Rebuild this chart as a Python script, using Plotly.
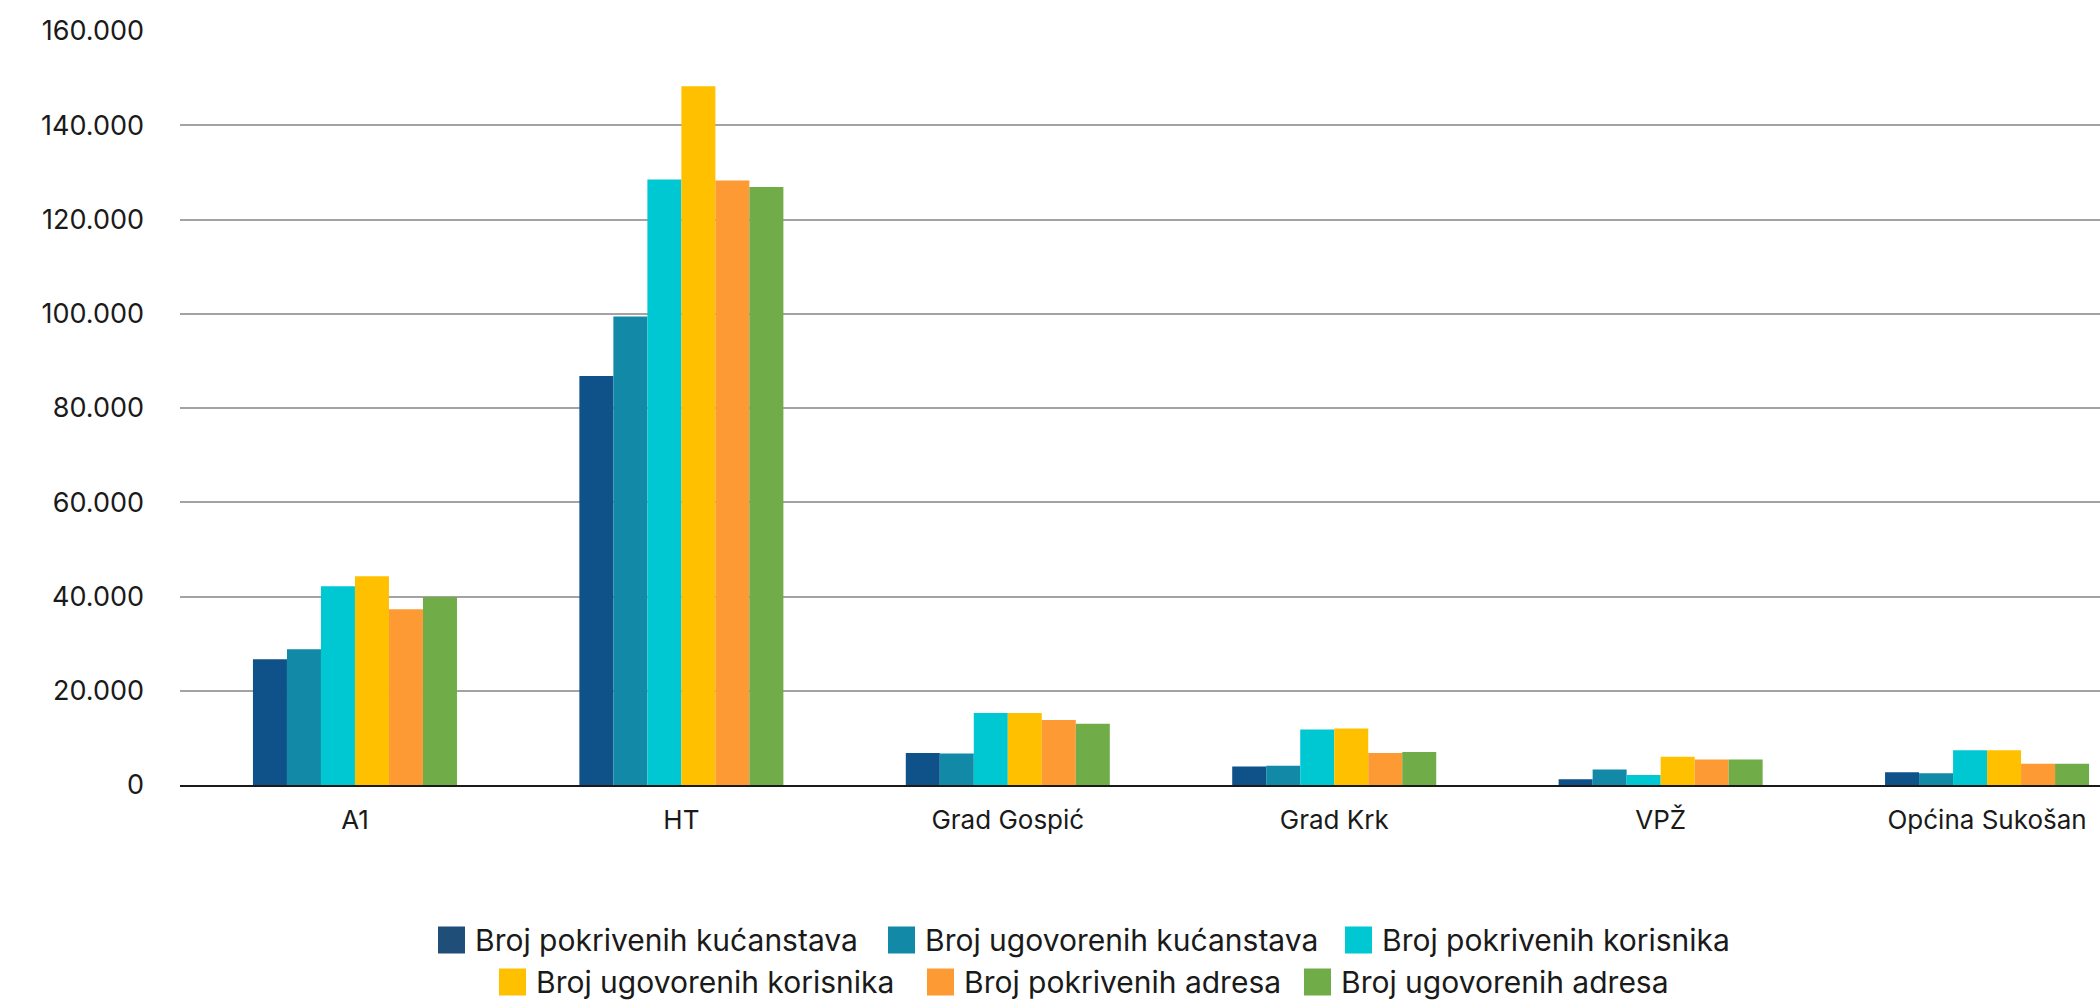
import plotly.graph_objects as go

# ---------------- data ----------------
categories = ["A1", "HT", "Grad Gospić", "Grad Krk", "VPŽ", "Općina Sukošan"]

series_names = [
    "Broj pokrivenih kućanstava",
    "Broj ugovorenih kućanstava",
    "Broj pokrivenih korisnika",
    "Broj ugovorenih korisnika",
    "Broj pokrivenih adresa",
    "Broj ugovorenih adresa",
]

pokrivena_kucanstva = [26700, 86800, 6800, 3900, 1200, 2700]
ugovorena_kucanstva = [28800, 99400, 6700, 4100, 3300, 2500]
pokriveni_korisnici = [42200, 128500, 15300, 11800, 2100, 7400]
ugovoreni_korisnici = [44300, 148300, 15300, 12000, 6000, 7400]
pokrivene_adrese = [37300, 128300, 13800, 6800, 5400, 4500]
ugovorene_adrese = [39900, 126900, 13000, 7000, 5400, 4500]

series_values = [
    pokrivena_kucanstva,
    ugovorena_kucanstva,
    pokriveni_korisnici,
    ugovoreni_korisnici,
    pokrivene_adrese,
    ugovorene_adrese,
]

bar_colors = ["#0F5189", "#1389A8", "#00C8D2", "#FFC000", "#FE9A33", "#70AC48"]
legend_colors = ["#1F4E79", "#1389A8", "#00C8D2", "#FFC000", "#FE9A33", "#70AC48"]

y_ticks = [0, 20000, 40000, 60000, 80000, 100000, 120000, 140000, 160000]

# ---------------- figure ----------------
W, H = 2100, 1000
L, R, T, B = 180, 0, 31, 215
FONT = "Inter"
TXT = "#1a1a1a"

fig = go.Figure()
for name, vals, col in zip(series_names, series_values, bar_colors):
    fig.add_trace(go.Bar(
        x=categories, y=vals, name=name,
        marker=dict(color=col, line=dict(width=0)),
        showlegend=False,
    ))

fig.update_layout(
    width=W, height=H,
    margin=dict(l=L, r=R, t=T, b=B, pad=0),
    plot_bgcolor="white", paper_bgcolor="white",
    barmode="group", bargap=0.375, bargroupgap=0,
    separators=",.",
    font=dict(family=FONT, color=TXT),
    showlegend=False,
)

fig.update_yaxes(
    range=[0, 160000], tickvals=y_ticks, tickformat=",d",
    showgrid=True, gridcolor="#A3A3A3", gridwidth=2,
    zeroline=False, showline=False, ticks="",
    ticklabelstandoff=35,
    tickfont=dict(size=27, family=FONT, color=TXT),
)
fig.update_xaxes(
    type="category", range=[-0.536, 5.346],
    showline=True, linecolor="#1a1a1a", linewidth=2,
    ticks="", showgrid=False,
    ticklabelstandoff=11,
    tickfont=dict(size=26, family=FONT, color=TXT),
    layer="above traces",
)

# ---------------- legend (two centred rows) ----------------
def px_x(px):
    return (px - L) / (W - L - R)

def px_y(py):
    return (H - B - py) / (H - T - B)

SQ = 27
legend_layout = [  # (left x of square in px, row centre y in px)
    (438, 940), (888, 940), (1345, 940),
    (499, 982), (927, 982), (1304, 982),
]
for name, col, (sx, cy) in zip(series_names, legend_colors, legend_layout):
    fig.add_shape(
        type="rect", xref="paper", yref="paper",
        x0=px_x(sx), x1=px_x(sx + SQ),
        y0=px_y(cy - SQ / 2), y1=px_y(cy + SQ / 2),
        fillcolor=col, line=dict(width=0),
    )
    fig.add_annotation(
        text=name, xref="paper", yref="paper",
        x=px_x(sx + SQ + 8), y=px_y(cy),
        xanchor="left", yanchor="middle", showarrow=False,
        font=dict(size=30, family=FONT, color=TXT),
    )

fig.write_html(
    "out.html",
    config={"displayModeBar": False},
    post_script="document.body.style.margin='0';document.body.style.overflow='hidden';",
)
